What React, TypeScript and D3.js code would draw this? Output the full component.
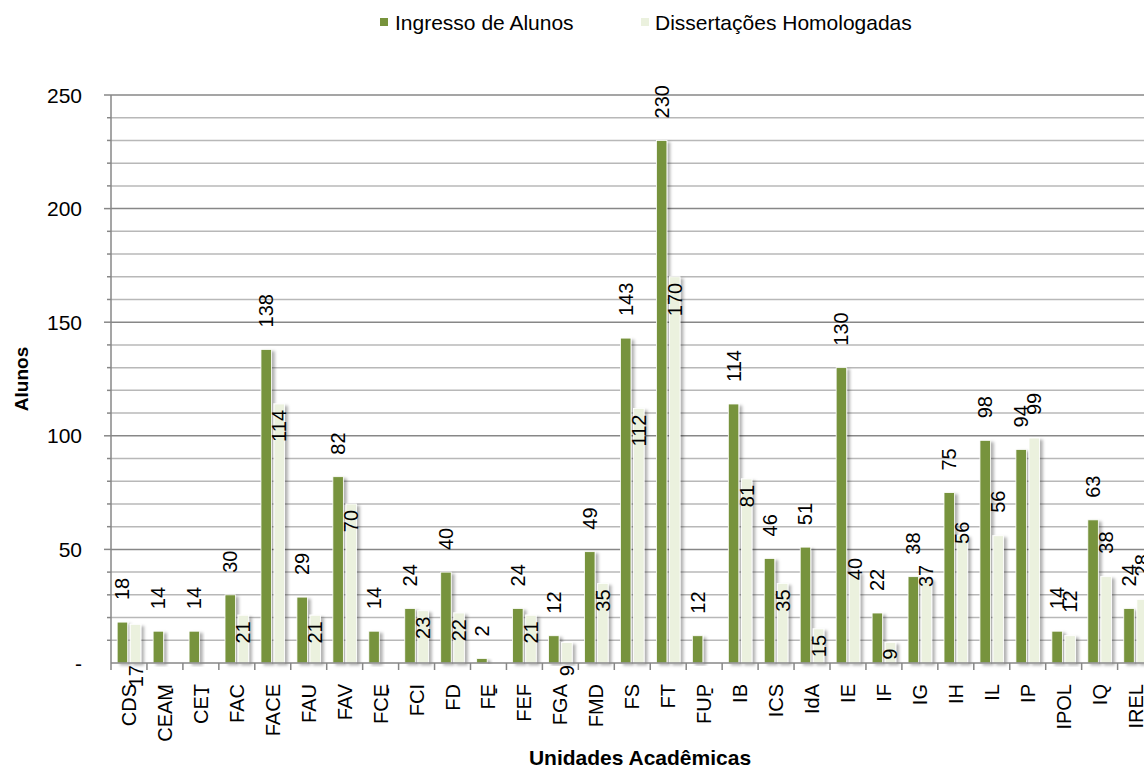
import React from "react";
import * as d3 from "d3";

const categories = ["CDS","CEAM","CET","FAC","FACE","FAU","FAV","FCE","FCI","FD","FE","FEF","FGA","FMD","FS","FT","FUP","IB","ICS","IdA","IE","IF","IG","IH","IL","IP","IPOL","IQ","IREL"];
const ingresso = [18,14,14,30,138,29,82,14,24,40,2,24,12,49,143,230,12,114,46,51,130,22,38,75,98,94,14,63,24];
const dissertacoes = [17,0,0,21,114,21,70,0,23,22,0,21,9,35,112,170,0,81,35,15,40,9,37,56,56,99,12,38,28];
// label placement style for the second series
const dissLabelMode = ["below","below","below","inside","inside","inside","inside","below","inside","inside","below","inside","below","inside","inside","inside","below","inside","inside","inside","middle","inside","middle","middle","outside","outside","outside","outside","outside"];
const yTicks = [0,50,100,150,200,250];
const seriesNames = ["Ingresso de Alunos","Dissertações Homologadas"];

const W = 1144, H = 769;
const FONT = "'Liberation Sans', Arial, sans-serif";
const GREEN = "#77933C";
const LIGHT = "#EBF1DE";

export default function App() {
  const band = 35.95;
  const x0 = 111;
  const x = d3.scaleBand<string>().domain(categories).range([x0, x0 + band * categories.length]).paddingInner(0).paddingOuter(0);
  const xs = d3.scaleBand<string>().domain(["g","l"]).range([0, x.bandwidth()]).paddingInner(0.2).paddingOuter(0.47);
  const y = d3.scaleLinear().domain([0, 250]).range([663, 95]);
  const fmt = (v: number) => (v === 0 ? "-" : d3.format("d")(v));
  const minor = d3.range(10, 251, 10);
  const xEnd = x.range()[1];

  return (
    <svg width={W} height={H} style={{ position: "absolute", left: 0, top: 0, background: "#fff" }} fontFamily={FONT}>
      <defs>
        <filter id="sh" x="-50%" y="-10%" width="200%" height="120%">
          <feDropShadow dx="3" dy="2" stdDeviation="1.8" floodColor="#000" floodOpacity="0.3" />
        </filter>
      </defs>
      {/* legend */}
      <rect x={380} y={18} width={8} height={8} fill={GREEN} />
      <text x={395} y={30} fontSize={21} fill="#000">{seriesNames[0]}</text>
      <rect x={641} y={18} width={8} height={8} fill={LIGHT} />
      <text x={655} y={30} fontSize={21} fill="#000">{seriesNames[1]}</text>

      {/* gridlines */}
      {minor.map((v) => (
        <line key={"g" + v} x1={x0} x2={xEnd} y1={y(v)} y2={y(v)} stroke={v % 50 === 0 ? "#878787" : "#b8b8b8"} strokeWidth={1.5} />
      ))}
      {minor.map((v) => (
        <line key={"mt" + v} x1={v % 50 === 0 ? 104 : 107} x2={x0} y1={y(v)} y2={y(v)} stroke="#878787" strokeWidth={1.5} />
      ))}
      {/* y axis */}
      <line x1={x0} x2={x0} y1={y(250)} y2={y(0)} stroke="#878787" strokeWidth={1.5} />
      {yTicks.map((v) => (
        <text key={"yt" + v} x={82} y={y(v)} fontSize={21} textAnchor="end" dominantBaseline="central" fill="#000">{fmt(v)}</text>
      ))}

      {/* bars */}
      {categories.map((c, i) => {
        const bx = x(c)!;
        return (
          <g key={"b" + c} filter="url(#sh)">
            <rect x={bx + xs("g")!} y={y(ingresso[i])} width={xs.bandwidth()} height={y(0) - y(ingresso[i])} fill={GREEN} stroke="#fff" strokeWidth={0.8} />
            {dissertacoes[i] > 0 && (
              <rect x={bx + xs("l")!} y={y(dissertacoes[i])} width={xs.bandwidth()} height={y(0) - y(dissertacoes[i])} fill={LIGHT} stroke="#fff" strokeWidth={0.8} />
            )}
          </g>
        );
      })}

      {/* x axis */}
      <line x1={x0} x2={xEnd} y1={y(0)} y2={y(0)} stroke="#878787" strokeWidth={1.5} />
      {d3.range(categories.length + 1).map((i) => (
        <line key={"xt" + i} x1={x0 + i * band} x2={x0 + i * band} y1={y(0)} y2={y(0) + 7} stroke="#878787" strokeWidth={1.5} />
      ))}
      {categories.map((c) => {
        const cx = x(c)! + x.bandwidth() / 2;
        return (
          <text key={"xl" + c} transform={`translate(${cx},684) rotate(-90)`} fontSize={20} textAnchor="end" dominantBaseline="central" fill="#000">{c}</text>
        );
      })}

      {/* data labels */}
      {categories.map((c, i) => {
        const cx = x(c)! + xs("g")! + xs.bandwidth() / 2;
        return (
          <text key={"lg" + c} transform={`translate(${cx},${y(ingresso[i]) - 22}) rotate(-90)`} fontSize={20} textAnchor="start" dominantBaseline="central" fill="#000">{fmt(ingresso[i])}</text>
        );
      })}
      {categories.map((c, i) => {
        const cx = x(c)! + xs("l")! + xs.bandwidth() / 2;
        const v = dissertacoes[i];
        const top = y(v);
        const mode = dissLabelMode[i];
        let py = top;
        let anchor = "start";
        if (v === 0) { py = y(0) + 28; anchor = "middle"; }
        else if (mode === "below") { py = y(0) + 2; anchor = "end"; }
        else if (mode === "inside") { py = top + 6; anchor = "end"; }
        else if (mode === "middle") { py = top - 3; anchor = "middle"; }
        else { py = top - 23; anchor = "start"; }
        return (
          <text key={"ll" + c} transform={`translate(${cx},${py}) rotate(-90)`} fontSize={20} textAnchor={anchor} dominantBaseline="central" fill="#000">{fmt(v)}</text>
        );
      })}

      {/* axis titles */}
      <text transform={`translate(21,379) rotate(-90)`} fontSize={19} fontWeight="bold" textAnchor="middle" dominantBaseline="central" fill="#000">Alunos</text>
      <text x={640} y={765} fontSize={21} fontWeight="bold" textAnchor="middle" fill="#000">Unidades Acadêmicas</text>
    </svg>
  );
}
